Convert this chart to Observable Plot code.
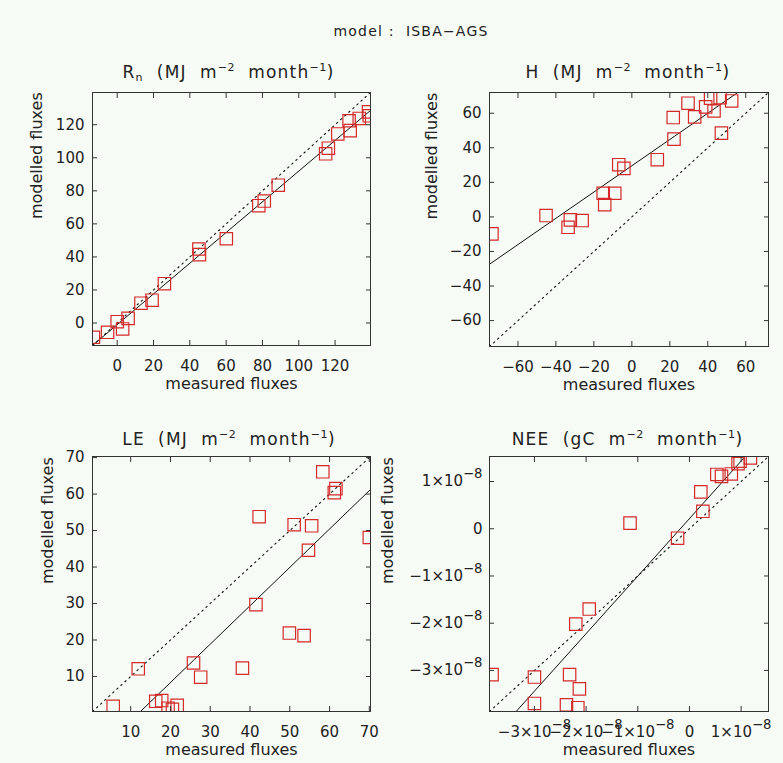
<!DOCTYPE html>
<html>
<head>
<meta charset="utf-8">
<script src="https://cdn.jsdelivr.net/npm/d3@7"></script>
<script src="https://cdn.jsdelivr.net/npm/@observablehq/plot@0.6"></script>
<style>
  html, body { margin: 0; padding: 0; background: #f7fbf5; }
  #fig { position: relative; width: 783px; height: 763px; background: #f7fbf5; overflow: hidden;
         font-family: "DejaVu Sans", sans-serif; color: #222; }
  .ttl { position: absolute; white-space: pre; line-height: 1; transform: translateX(-50%); }
  .panelTitle { font-size: 17px; letter-spacing: 1.2px; }
  .mainTitle { font-size: 14px; letter-spacing: 1.2px; }
  .sp { font-size: 65%; position: relative; top: -0.6em; letter-spacing: 0.5px; }
  .sb { font-size: 65%; position: relative; top: 0.35em; }
  .panel { position: absolute; }
</style>
</head>
<body>
<div id="fig"></div>
<script>
// ---------- data ----------
const mainTitle = "model :  ISBA\u2212AGS";
const xLabel = "measured fluxes";
const yLabel = "modelled fluxes";

// Rn (MJ m-2 month-1)
const rnMeasured = [-13.1, -5.3, 0.0, 3.0, 6.0, 13.1, 19.2, 26.0, 45.0, 45.3, 60.1, 78.0, 81.0, 88.7, 114.8, 116.3, 121.5, 128.3, 127.7, 133.3, 138.4, 138.8];
const rnModelled = [-8.6, -5.6, 0.8, -3.6, 2.8, 12.0, 13.8, 23.8, 44.8, 41.4, 51.0, 71.0, 73.8, 83.4, 102.4, 105.8, 114.4, 116.4, 122.4, 123.8, 127.8, 125.4];
const rnRange = [-13.6, 139.5];
const rnTicks = [0, 20, 40, 60, 80, 100, 120];
const rnFit = [0.929, -0.96];   // slope, intercept

// H (MJ m-2 month-1)
const hMeasured = [-73.7, -45.2, -33.6, -32.4, -26.2, -15.1, -14.3, -9.0, -6.9, -4.2, 13.4, 21.8, 22.2, 29.6, 33.1, 38.9, 41.5, 43.3, 47.2, 46.5, 52.6];
const hModelled = [-9.8, 0.8, -6.0, -1.7, -2.1, 13.7, 7.1, 13.7, 30.2, 28.1, 33.1, 57.5, 45.0, 65.8, 57.9, 63.7, 68.7, 61.3, 48.5, 69.0, 67.1];
const hRange = [-75, 72];
const hTicks = [-60, -40, -20, 0, 20, 40, 60];
const hFit = [0.76, 29.6];

// LE (MJ m-2 month-1)
const leMeasured = [5.6, 11.9, 16.3, 17.8, 19.4, 20.5, 21.7, 25.8, 27.6, 38.1, 41.5, 42.3, 49.9, 53.6, 51.1, 55.5, 54.7, 58.3, 61.2, 61.6, 70.0];
const leModelled = [1.8, 12.1, 3.2, 3.4, 1.3, 1.0, 2.1, 13.7, 9.8, 12.3, 29.7, 53.8, 21.9, 21.2, 51.6, 51.3, 44.6, 66.1, 60.4, 61.5, 48.1];
const leRange = [0.4, 70.3];
const leTicks = [10, 20, 30, 40, 50, 60, 70];
const leFit = [1.052, -12.7];

// NEE (gC m-2 month-1)
const neeMeasured = [-3.82e-8, -3.0e-8, -3.0e-8, -2.32e-8, -2.38e-8, -2.13e-8, -2.16e-8, -2.2e-8, -1.94e-8, -1.15e-8, -0.23e-8, 0.22e-8, 0.26e-8, 0.53e-8, 0.62e-8, 0.81e-8, 0.94e-8, 1.18e-8, 0.98e-8];
const neeModelled = [-3.09e-8, -3.14e-8, -3.70e-8, -3.09e-8, -3.73e-8, -3.39e-8, -3.79e-8, -2.02e-8, -1.70e-8, 0.12e-8, -0.20e-8, 0.78e-8, 0.37e-8, 1.15e-8, 1.11e-8, 1.16e-8, 1.38e-8, 1.50e-8, 1.43e-8];
const neeRange = [-3.87e-8, 1.53e-8];
const neeTicks = [-3e-8, -2e-8, -1e-8, 0, 1e-8];
const neeFit = [1.218, 0.215e-8];

// ---------- helpers ----------
const fmtPlain = d => (d < 0 ? "\u2212" : "") + Math.abs(d);
const fmtSci = d => {
  const k = Math.round(d / 1e-8);
  if (k === 0) return "0";
  return (k < 0 ? "\u2212" : "") + Math.abs(k) + "\u00d710^\u22128";
};

const fig = document.getElementById("fig");

function addTitle(html, cls, cx, top) {
  const d = document.createElement("div");
  d.className = "ttl " + cls;
  d.innerHTML = html;
  d.style.left = cx + "px";
  d.style.top = top + "px";
  fig.appendChild(d);
}

function panel(cfg) {
  const {measured, modelled, range, ticks, fit, fmt, box, yLabelGap, yTickPad} = cfg;
  const pts = measured.map((x, i) => ({x, y: modelled[i]}));
  const fitPts = range.map(x => ({x, y: fit[0] * x + fit[1]}));
  const onePts = range.map(v => ({x: v, y: v}));
  const ink = "#333";
  const svg = Plot.plot({
    width: box.w, height: box.h,
    marginLeft: box.ml, marginRight: box.mr, marginTop: box.mt, marginBottom: box.mb,
    style: {background: "transparent", fontFamily: "'DejaVu Sans', sans-serif", fontSize: "15px", color: "#222", overflow: "visible"},
    x: {domain: range},
    y: {domain: range},
    marks: [
      Plot.line(onePts, {x: "x", y: "y", stroke: "#111", strokeWidth: 1.1, strokeDasharray: "1.5,4", clip: true}),
      Plot.line(fitPts, {x: "x", y: "y", stroke: "#111", strokeWidth: 1, clip: true}),
      Plot.dot(pts, {x: "x", y: "y", symbol: "square", r: 7, stroke: "#d42a2a", strokeWidth: 1.2, fill: "none", clip: true}),
      Plot.frame({stroke: ink}),
      // inward ticks on all four sides
      Plot.axisX(ticks, {anchor: "bottom", tickSize: 5, dy: -5, tickFormat: () => "", label: null, stroke: ink}),
      Plot.axisX(ticks, {anchor: "top", tickSize: 5, dy: 5, tickFormat: () => "", label: null, stroke: ink}),
      Plot.axisY(ticks, {anchor: "left", tickSize: 5, dx: 5, tickFormat: () => "", label: null, stroke: ink}),
      Plot.axisY(ticks, {anchor: "right", tickSize: 5, dx: -5, tickFormat: () => "", label: null, stroke: ink}),
      // tick labels
      Plot.text(ticks, {x: d => d, text: fmt, frameAnchor: "bottom", lineAnchor: "top", dy: 15, fill: "#222"}),
      Plot.axisY(ticks, {anchor: "left", tickSize: 0, tickPadding: yTickPad, tickFormat: fmt, label: null}),
      // axis titles
      Plot.text([xLabel], {text: d => d, frameAnchor: "bottom", lineAnchor: "top", dy: 32.6, fontSize: 16, fill: "#222"}),
      Plot.text([yLabel], {text: d => d, frameAnchor: "left", rotate: -90, lineAnchor: "top", dx: -(yLabelGap + 11.4), fontSize: 16, fill: "#222"})
    ]
  });
  // superscript exponents in scientific tick labels
  svg.querySelectorAll("text").forEach(t => {
    const s = t.textContent;
    if (s.includes("^")) {
      const [a, b] = s.split("^");
      t.textContent = a;
      const ts = document.createElementNS("http://www.w3.org/2000/svg", "tspan");
      ts.setAttribute("dy", "-0.6em");
      ts.setAttribute("font-size", "88%");
      ts.textContent = b;
      t.appendChild(ts);
    }
  });
  const wrap = document.createElement("div");
  wrap.className = "panel";
  wrap.style.left = box.left + "px";
  wrap.style.top = box.top + "px";
  wrap.appendChild(svg);
  fig.appendChild(wrap);
}

// ---------- layout ----------
addTitle(mainTitle, "mainTitle", 411, 23.9);
addTitle('R<span class="sb">n</span>  (MJ  m<span class="sp">\u22122</span>  month<span class="sp">\u22121</span>)', "panelTitle", 228.5, 63.6);
addTitle('H  (MJ  m<span class="sp">\u22122</span>  month<span class="sp">\u22121</span>)', "panelTitle", 628, 63.6);
addTitle('LE  (MJ  m<span class="sp">\u22122</span>  month<span class="sp">\u22121</span>)', "panelTitle", 229, 430.6);
addTitle('NEE  (gC  m<span class="sp">\u22122</span>  month<span class="sp">\u22121</span>)', "panelTitle", 627.5, 430.6);

panel({measured: rnMeasured, modelled: rnModelled, range: rnRange, ticks: rnTicks, fit: rnFit, fmt: fmtPlain,
  box: {left: 0, top: 60, w: 390, h: 340, ml: 92, mr: 20, mt: 32, mb: 55}, yLabelGap: 50, yTickPad: 8});
panel({measured: hMeasured, modelled: hModelled, range: hRange, ticks: hTicks, fit: hFit, fmt: fmtPlain,
  box: {left: 360, top: 60, w: 423, h: 340, ml: 129, mr: 15, mt: 32, mb: 54}, yLabelGap: 52, yTickPad: 8});
panel({measured: leMeasured, modelled: leModelled, range: leRange, ticks: leTicks, fit: leFit, fmt: fmtPlain,
  box: {left: 0, top: 425, w: 390, h: 338, ml: 92, mr: 20, mt: 31, mb: 52}, yLabelGap: 39, yTickPad: 8});
panel({measured: neeMeasured, modelled: neeModelled, range: neeRange, ticks: neeTicks, fit: neeFit, fmt: fmtSci,
  box: {left: 360, top: 425, w: 423, h: 338, ml: 129, mr: 15, mt: 31, mb: 52}, yLabelGap: 96, yTickPad: 7});
</script>
</body>
</html>
